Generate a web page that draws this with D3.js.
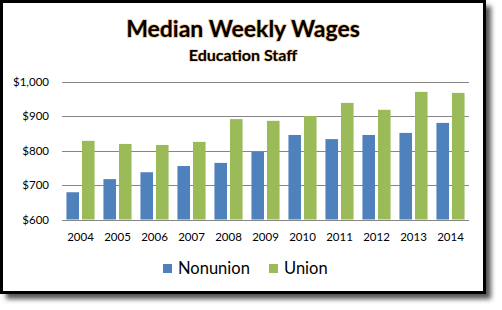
<!DOCTYPE html>
<html>
<head>
<script src="https://cdnjs.cloudflare.com/ajax/libs/d3/7.8.5/d3.min.js"></script>
<style>
  body { margin: 0; background: #fff; }
</style>
</head>
<body>
<script>
// data
var years = ["2004","2005","2006","2007","2008","2009","2010","2011","2012","2013","2014"];
var nonunion = [679, 717, 737, 755, 764, 796, 845, 833, 845, 851, 880];
var union = [828, 819, 816, 825, 891, 886, 900, 938, 918, 970, 967];
var seriesNames = ["Nonunion", "Union"];
var yTicks = [600, 700, 800, 900, 1000];

var w = 502, h = 310;
var colors = ["#4f81bd", "#9bbb59"];
var font = "Lato, 'Open Sans', sans-serif";

var svg = d3.select("body").append("svg")
  .attr("width", w).attr("height", h);

// drop shadow for the frame
var defs = svg.append("defs");
var f = defs.append("filter").attr("id", "shadow")
  .attr("x", "-5%").attr("y", "-5%").attr("width", "115%").attr("height", "115%");
f.append("feGaussianBlur").attr("stdDeviation", 2.5);

svg.append("rect")
  .attr("x", 6).attr("y", 6).attr("width", 485).attr("height", 293)
  .attr("fill", "#555").attr("filter", "url(#shadow)");

svg.append("rect")
  .attr("x", 1.5).attr("y", 1.5).attr("width", 483).attr("height", 291)
  .attr("fill", "#fff").attr("stroke", "#000").attr("stroke-width", 3);

// titles
svg.append("text")
  .attr("x", 243).attr("y", 37)
  .attr("text-anchor", "middle")
  .attr("font-family", font).attr("font-weight", "bold")
  .attr("font-size", 23).attr("fill", "#000")
  .style("paint-order", "stroke")
  .attr("stroke", "rgba(230,140,40,0.55)").attr("stroke-width", 1.5)
  .text("Median Weekly Wages");

svg.append("text")
  .attr("x", 243).attr("y", 61)
  .attr("text-anchor", "middle")
  .attr("font-family", font).attr("font-weight", "bold")
  .attr("font-size", 16).attr("fill", "#000")
  .style("paint-order", "stroke")
  .attr("stroke", "rgba(230,140,40,0.5)").attr("stroke-width", 1.2)
  .text("Education Staff");

// scales
var x0 = d3.scaleBand().domain(years).range([62, 469]).paddingInner(0.24).paddingOuter(0.12);
var x1 = d3.scaleBand().domain(seriesNames).range([0, x0.bandwidth()]).paddingInner(0.19);
var y = d3.scaleLinear().domain([600, 1000]).range([219.5, 81.5]);

// gridlines
svg.append("g").selectAll("line").data(yTicks).enter().append("line")
  .attr("x1", 62).attr("x2", 469)
  .attr("y1", function(d) { return Math.round(y(d)) + 0.5; })
  .attr("y2", function(d) { return Math.round(y(d)) + 0.5; })
  .attr("stroke", "#868686").attr("stroke-width", 1);

// y axis labels
svg.append("g").selectAll("text").data(yTicks).enter().append("text")
  .attr("x", 49).attr("y", function(d) { return y(d) + 4; })
  .attr("text-anchor", "end")
  .attr("font-family", font).attr("font-size", 11.5).attr("fill", "#000")
  .text(function(d) { return "$" + d3.format(",")(d); });

// bars
var data = years.map(function(yr, i) {
  return { year: yr, vals: [nonunion[i], union[i]] };
});
var groups = svg.append("g").selectAll("g").data(data).enter().append("g")
  .attr("transform", function(d) { return "translate(" + x0(d.year) + ",0)"; });
groups.selectAll("rect").data(function(d) {
    return d.vals.map(function(v, k) { return { name: seriesNames[k], v: v, k: k }; });
  }).enter().append("rect")
  .attr("x", function(d) { return x1(d.name); })
  .attr("width", x1.bandwidth())
  .attr("y", function(d) { return y(d.v); })
  .attr("height", function(d) { return y(600) - y(d.v); })
  .attr("fill", function(d) { return colors[d.k]; });

// x labels
svg.append("g").selectAll("text").data(years).enter().append("text")
  .attr("x", function(d) { return x0(d) + x0.bandwidth() / 2; })
  .attr("y", 241)
  .attr("text-anchor", "middle")
  .attr("font-family", font).attr("font-size", 11.5).attr("fill", "#000")
  .text(function(d) { return d; });

// legend
var legX = [163, 269];
seriesNames.forEach(function(n, i) {
  svg.append("rect").attr("x", legX[i]).attr("y", 264).attr("width", 9).attr("height", 9)
    .attr("fill", colors[i]);
  svg.append("text").attr("x", legX[i] + 15).attr("y", 274)
    .attr("font-family", font).attr("font-size", 16.5).attr("fill", "#000")
    .text(n);
});
</script>
</body>
</html>
